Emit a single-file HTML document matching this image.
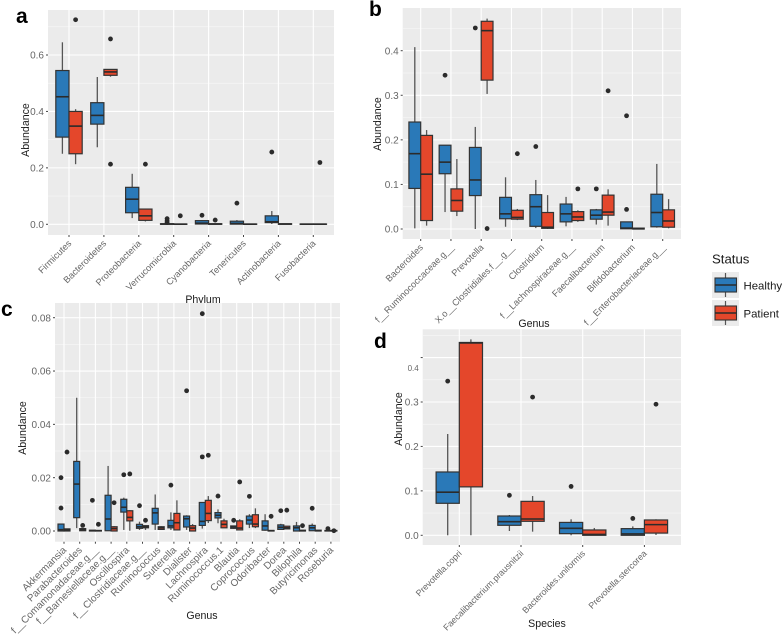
<!DOCTYPE html>
<html>
<head>
<meta charset="utf-8">
<style>
html,body{margin:0;padding:0;background:#fff;}
svg{display:block;font-family:"Liberation Sans",sans-serif;}
</style>
</head>
<body>
<svg id="figure" xmlns="http://www.w3.org/2000/svg" width="784" height="635" viewBox="0 0 784 635"></svg>
<script>
// Each box is [lower whisker, Q1, median, Q3, upper whisker].
var aCategories = ["Firmicutes","Bacteroidetes","Proteobacteria","Verrucomicrobia","Cyanobacteria","Tenericutes","Actinobacteria","Fusobacteria"];
var aHealthy = [[.25,.309,.452,.545,.645],[.273,.355,.386,.431,.522],[.022,.041,.089,.131,.179],[0,0,.001,.002,.003],[0,.001,.004,.013,.015],[0,.0005,.003,.011,.015],[.001,.006,.009,.03,.047],[0,0,.0005,.001,.001]];
var aPatient = [[.213,.25,.348,.4,.408],[.523,.528,.54,.549,.549],[.01,.014,.03,.054,.054],[0,0,.0005,.001,.002],[0,0,.001,.002,.002],[0,0,.0005,.001,.001],[0,0,.001,.002,.002],[0,0,.0005,.001,.001]];
var aHealthyOutliers = [[],[],[],[.02,.012,.006],[.032],[.075],[.256],[]];
var aPatientOutliers = [[.725],[.657,.213],[.213],[.03],[.015],[],[],[.219]];
var aTicks = [0,.2,.4,.6];
var aTickLabels = ["0.0","0.2","0.4","0.6"];

var bCategories = ["Bacteroides","f__Ruminococcaceae.g__","Prevotella","X.o__Clostridiales.f__.g__","Clostridium","f__Lachnospiraceae.g__","Faecalibacterium","Bifidobacterium","f__Enterobacteriaceae.g__"];
var bHealthy = [[.0015,.091,.169,.24,.408],[.038,.124,.15,.188,.188],[0,.075,.11,.183,.229],[.005,.023,.034,.071,.116],[.002,.006,.05,.077,.11],[.006,.016,.034,.056,.072],[.01,.022,.031,.043,.045],[0,.0005,.002,.016,.016],[.003,.005,.037,.078,.146]];
var bPatient = [[.0075,.019,.123,.21,.222],[.029,.04,.064,.09,.157],[.303,.334,.445,.466,.472],[.02,.022,.026,.042,.045],[0,.0015,.004,.037,.076],[.016,.019,.027,.039,.042],[.0075,.031,.038,.076,.089],[0,0,.0005,.002,.002],[.0015,.004,.018,.043,.067]];
var bHealthyOutliers = [[],[.345],[.451],[],[.185],[],[.09],[.254,.044],[]];
var bPatientOutliers = [[],[],[.001],[.169],[],[.09],[.31],[],[]];
var bTicks = [0,.1,.2,.3,.4];
var bTickLabels = ["0.0","0.1","0.2","0.3","0.4"];

var cCategories = ["Akkermansia","Parabacteroides","f__Comamonadaceae.g__","f__Barnesiellaceae.g__","Oscillospira","f__Clostridiaceae.g__","Ruminococcus","Sutterella","Dialister","Lachnospira","Ruminococcus.1","Blautia","Coprococcus","Odoribacter","Dorea","Bilophila","Butyricimonas","Roseburia"];
var cHealthy = [[0,0,.0005,.0026,.0026],[.0011,.005,.0176,.0261,.05],[0,0,.0001,.0003,.0003],[.0001,.0001,.0045,.0134,.0244],[.0004,.0071,.0089,.0119,.0125],[.0004,.001,.0016,.0025,.0035],[.0004,.0026,.0068,.0085,.0137],[.0004,.0012,.0019,.004,.007],[.0004,.0015,.0046,.0056,.0059],[.0009,.0021,.0036,.0107,.0107],[.0029,.0049,.0059,.0069,.0081],[.0008,.001,.0015,.0019,.0019],[.0011,.0026,.0041,.0056,.0063],[.0001,.0003,.0019,.0038,.0063],[.0004,.0006,.0014,.0023,.0027],[0,0,.0012,.0019,.0034],[.0001,.0001,.0012,.0021,.0028],[0,0,.0001,.0002,.0002]];
var cPatient = [[0,0,.0004,.0008,.0008],[.0001,.0001,.0005,.0009,.0009],[0,0,.0001,.0002,.0002],[0,0,.0009,.0016,.0018],[.0001,.0038,.0051,.0076,.0078],[.0004,.0012,.0016,.002,.002],[.0004,.0006,.0012,.0016,.0018],[.0002,.0004,.0031,.0066,.0115],[0,0,.0011,.002,.0026],[.003,.0039,.0066,.0115,.0131],[.0012,.0012,.0025,.0038,.0046],[.0004,.0004,.0011,.0038,.0044],[.0011,.0016,.0026,.0061,.0085],[0,0,.0001,.0002,.0002],[.0008,.0008,.0012,.0018,.0018],[0,0,.0001,.0003,.0003],[0,0,.0001,.0003,.0003],[0,0,.0001,.0002,.0002]];
var cHealthyOutliers = [[.02,.0086],[],[.0115],[],[.0211],[.0095],[],[.0172],[.0526],[.0815,.0278],[.0131],[.004],[.013],[],[.0076],[],[.0085],[.0009]];
var cPatientOutliers = [[.0296],[.0021],[.0025],[.0106],[.0214],[.004],[],[],[],[.0284],[],[.0184],[],[.0055],[.0078],[.002],[],[.0001]];
var cTicks = [0,.02,.04,.06,.08];
var cTickLabels = ["0.00","0.02","0.04","0.06","0.08"];

var dCategories = ["Prevotella.copri","Faecalibacterium.prausnitzii","Bacteroides.uniformis","Prevotella.stercorea"];
var dHealthy = [[0,.072,.097,.1425,.228],[.0097,.0225,.0307,.0434,.0457],[0,.0037,.0157,.029,.036],[0,0,.003,.015,.02]];
var dPatient = [[0,.109,.433,.434,.441],[.0082,.0315,.0367,.0764,.0884],[0,0,.002,.012,.0165],[.0007,.005,.024,.0345,.036]];
var dHealthyOutliers = [[.347],[.09],[.11],[.038]];
var dPatientOutliers = [[],[.311],[],[.295]];
var dTicks = [0,.1,.2,.3,.4];
var dTickLabels = ["0.0","0.1","0.2","0.3","0.4"];

var legendEntries = ["Healthy","Patient"];

var NS = "http://www.w3.org/2000/svg";
var svg = document.getElementById("figure");
var BLUE = "#2a79b8", RED = "#e4472b", INK = "#333333", GREY = "#666666";

function node(parent, tag, props, text) {
  var el = document.createElementNS(NS, tag);
  for (var k in props) el.setAttribute(k, props[k]);
  if (text !== undefined) el.textContent = text;
  parent.appendChild(el);
  return el;
}
function line(parent, x1, y1, x2, y2, stroke, w) {
  return node(parent, "line", {x1:x1, y1:y1, x2:x2, y2:y2, stroke:stroke, "stroke-width":w});
}

function drawBox(parent, name, cx, halfW, stats, outliers, fill, y, r) {
  var g = node(parent, "g", {});
  
  
  var whisker = line(g, cx, y(stats[0]), cx, y(stats[4]), "#555555", 1.3);
  
  
  var top = y(stats[3]), bottom = y(stats[1]);
  var rect = node(g, "rect", {x:cx-halfW, y:top, width:halfW*2, height:Math.max(bottom-top,0.3), fill:fill, stroke:INK, "stroke-width":1.2});
  
  
  var med = line(g, cx-halfW, y(stats[2]), cx+halfW, y(stats[2]), "#2b2b2b", 1.6);
  
  
  outliers.forEach(function (v) {
    var dot = node(g, "circle", {cx:cx, cy:y(v), r:r, fill:"#2b2b2b"});
    
    
  });
}

function drawPanel(p) {
  var g = node(svg, "g", {});
  
  

  var bg = node(g, "rect", {x:p.left, y:p.top, width:p.right-p.left, height:p.bottom-p.top, fill:"#ebebeb"});
  
  

  function y(v) { return p.y0 + (p.yRef - p.y0) * v / p.vRef; }
  function x(i) { return p.x0 + p.step * i; }

  var step = p.ticks[1] - p.ticks[0];
  for (var v = -step / 2; v <= p.vMax; v += step) {
    var yy = y(v);
    if (yy > p.top && yy < p.bottom) {
      var minor = line(g, p.left, yy, p.right, yy, "#f6f6f6", 0.7);
      
      
    }
  }
  p.ticks.forEach(function (t, i) {
    var yy = y(t);
    var grid = line(g, p.left, yy, p.right, yy, "#ffffff", 1.1);
    
    
    var tick = line(g, p.left - 2, yy, p.left, yy, "#444444", 1);
    
    
    var lift = (p.shiftLast && i === p.ticks.length - 1);
    var lab = node(g, "text", {x:p.left - 4, y:yy + (lift ? 13.5 : 3.6), "text-anchor":"end", "font-size":lift ? 8 : p.tickFont, fill:GREY}, p.tickLabels[i]);
    
    
  });
  p.categories.forEach(function (c, i) {
    var xx = x(i);
    var grid = line(g, xx, p.top, xx, p.bottom, "#ffffff", 1.1);
    
    
    var tick = line(g, xx, p.bottom, xx, p.bottom + 2, "#444444", 1);
    
    
    var ax = xx + 3, ay = p.bottom + 9;
    var lab = node(g, "text", {x:ax, y:ay, "text-anchor":"end", "font-size":p.catFont, fill:GREY, transform:"rotate(-45 " + ax + " " + ay + ")"}, c);
    
    
  });
  p.categories.forEach(function (c, i) {
    drawBox(g, 'box-healthy-' + i, x(i) - p.halfW, p.halfW, p.healthy[i], p.healthyOut[i], BLUE, y, p.dot);
    drawBox(g, 'box-patient-' + i, x(i) + p.halfW, p.halfW, p.patient[i], p.patientOut[i], RED, y, p.dot);
  });

  var xt = node(g, "text", {x:p.xTitle[0], y:p.xTitle[1], "text-anchor":"middle", "font-size":p.titleFont, fill:"#1a1a1a"}, p.xName);
  
  
  var yt = node(g, "text", {x:p.yTitle[0], y:p.yTitle[1], "text-anchor":"middle", "font-size":p.titleFont, fill:"#1a1a1a", transform:"rotate(-90 " + p.yTitle[0] + " " + p.yTitle[1] + ")"}, "Abundance");
  
  
  var letter = node(g, "text", {x:p.letter[0], y:p.letter[1], "font-size":21, "font-weight":"bold", fill:"#000"}, p.id);
  
  
}

drawPanel({id:"a", left:48, right:334, top:10, bottom:235, y0:224.3, yRef:55, vRef:.6, vMax:.72,
  x0:69, step:34.9, halfW:6.6, dot:2.4, tickFont:10, catFont:9.2, titleFont:10.6,
  categories:aCategories, healthy:aHealthy, patient:aPatient, healthyOut:aHealthyOutliers, patientOut:aPatientOutliers,
  ticks:aTicks, tickLabels:aTickLabels, xName:"Phylum", xTitle:[203,303], yTitle:[29,130], letter:[16,23]});

drawPanel({id:"b", left:402.7, right:681, top:8, bottom:239, y0:229, yRef:50.7, vRef:.4, vMax:.47,
  x0:420.7, step:30.25, halfW:5.9, dot:2.4, tickFont:10, catFont:9.2, titleFont:10.6,
  categories:bCategories, healthy:bHealthy, patient:bPatient, healthyOut:bHealthyOutliers, patientOut:bPatientOutliers,
  ticks:bTicks, tickLabels:bTickLabels, xName:"Genus", xTitle:[534,327], yTitle:[381,124], letter:[369,16]});

drawPanel({id:"c", left:55, right:340, top:303, bottom:541.7, y0:531, yRef:317.7, vRef:.08, vMax:.085,
  x0:64, step:15.7, halfW:3, dot:2.4, tickFont:10, catFont:10, titleFont:10.6,
  categories:cCategories, healthy:cHealthy, patient:cPatient, healthyOut:cHealthyOutliers, patientOut:cPatientOutliers,
  ticks:cTicks, tickLabels:cTickLabels, xName:"Genus", xTitle:[202,619], yTitle:[26,428], letter:[1,316]});

drawPanel({id:"d", left:422.7, right:681, top:329.3, bottom:545, y0:535.3, yRef:402, vRef:.3, vMax:.46,
  x0:459.3, step:61.7, halfW:11.6, dot:2.4, tickFont:10, catFont:8.8, titleFont:10.6, shiftLast:true,
  categories:dCategories, healthy:dHealthy, patient:dPatient, healthyOut:dHealthyOutliers, patientOut:dPatientOutliers,
  ticks:dTicks, tickLabels:dTickLabels, xName:"Species", xTitle:[547,627], yTitle:[402,419], letter:[374,348]});

var legend = node(svg, "g", {});


var legendTitle = node(legend, "text", {x:712, y:263.5, "font-size":13.2, fill:"#1a1a1a"}, "Status");


legendEntries.forEach(function (name, i) {
  var oy = 272 + i * 28;
  var entry = node(legend, "g", {});
  
  
  node(entry, "rect", {x:712, y:oy, width:27, height:26, fill:"#ebebeb"});
  line(entry, 725.5, oy + 1, 725.5, oy + 25, "#555555", 1.2);
  node(entry, "rect", {x:715, y:oy + 6, width:21.5, height:14, fill:i === 0 ? BLUE : RED, stroke:INK, "stroke-width":1.1});
  line(entry, 715, oy + 13, 736.5, oy + 13, "#2b2b2b", 1.4);
  node(entry, "text", {x:743.5, y:oy + 17.5, "font-size":11.4, fill:"#1a1a1a"}, name);
});
</script>
</body>
</html>
